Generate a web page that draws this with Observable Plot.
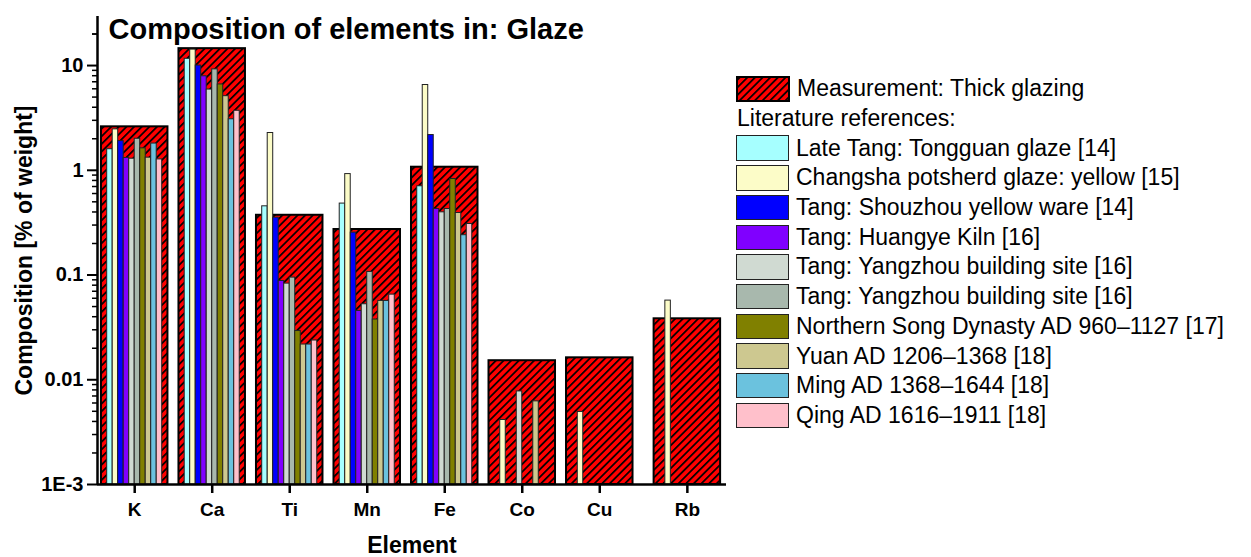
<!DOCTYPE html>
<html>
<head>
<meta charset="utf-8">
<script src="https://cdn.jsdelivr.net/npm/d3@7"></script>
<script src="https://cdn.jsdelivr.net/npm/@observablehq/plot@0.6"></script>
<style>
  body { margin: 0; background: #fff; font-family: "Liberation Sans", Arial, sans-serif; }
  #wrap { position: relative; width: 1251px; height: 557px; }
  #legend { position: absolute; left: 736px; top: 74px; }
  .row { height: 29.7px; display: flex; align-items: center; font-size: 23px; color: #000; white-space: nowrap; }
  .sw { width: 51px; height: 23.5px; border: 1.5px solid #222; margin-right: 7px; flex: none; }
  .sw svg { display: block; }
</style>
</head>
<body>
<div id="wrap"><div id="legend"></div></div>
<script>
// Elements on the x axis and their slot positions (Rb sits a little further out)
const elements = ["K", "Ca", "Ti", "Mn", "Fe", "Co", "Cu", "Rb"];
const slots = [1, 2, 3, 4, 5, 6, 7, 8.13];

// Own measurement, thick glazing (% of weight)
const measured = [2.6, 14.5, 0.372, 0.272, 1.07, 0.0152, 0.0162, 0.0382];

// Literature references (% of weight), null where not reported
const lateTangTongguan   = [1.59, 11.6, 0.453, 0.481, 0.704, null, null, null];
const changshaYellow     = [2.46, 14.2, 2.27, 0.92, 6.52, 0.00413, 0.00493, 0.057];
const tangShouzhou       = [1.9, 10.0, 0.353, 0.254, 2.17, null, null, null];
const tangHuangye        = [1.31, 7.9, 0.0877, 0.0454, 0.427, null, null, null];
const tangYangzhouA      = [1.29, 5.9, 0.0828, 0.0526, 0.397, 0.00774, null, null];
const tangYangzhouB      = [2.0, 9.2, 0.0945, 0.107, 0.427, null, null, null];
const northernSong       = [1.62, 6.6, 0.0292, 0.0376, 0.826, null, null, null];
const yuan               = [1.32, 5.1, 0.0217, 0.0566, 0.391, 0.00622, null, null];
const ming               = [1.8, 3.07, 0.0217, 0.0566, 0.24, null, null, null];
const qing               = [1.27, 3.7, 0.0237, 0.065, 0.307, null, null, null];

const refSeries = [lateTangTongguan, changshaYellow, tangShouzhou, tangHuangye, tangYangzhouA,
                   tangYangzhouB, northernSong, yuan, ming, qing];
const refNames = [
  "Late Tang: Tongguan glaze [14]",
  "Changsha potsherd glaze: yellow [15]",
  "Tang: Shouzhou yellow ware [14]",
  "Tang: Huangye Kiln [16]",
  "Tang: Yangzhou building site [16]",
  "Tang: Yangzhou building site [16]",
  "Northern Song Dynasty AD 960\u20131127 [17]",
  "Yuan AD 1206\u20131368 [18]",
  "Ming AD 1368\u20131644 [18]",
  "Qing AD 1616\u20131911 [18]"
];
const refColors = ["#a6ffff", "#fcfcc8", "#0000ff", "#8000ff", "#d0dad2",
                   "#a8b8ad", "#808000", "#cdc890", "#6bc2de", "#ffc0cb"];

const measuredName = "Measurement: Thick glazing";
const refHeading = "Literature references:";
const title = "Composition of elements in: Glaze";
const xTitle = "Element";
const yTitle = "Composition [% of weight]";

// Axis ticks
const yMajor = [0.001, 0.01, 0.1, 1, 10];
const yMajorLabels = ["1E-3", "0.01", "0.1", "1", "10"];
const yMinor = [];
for (const p of [0.001, 0.01, 0.1, 1, 10]) for (let k = 2; k <= 9; k++) if (k * p < 29) yMinor.push(+(k * p).toPrecision(3));
yMinor.push(20);

const xDomain = [0.52, 8.635];
const yDomain = [0.001, 29.4];

// Bar geometry in slot units
const boxHalf = 0.429;
const barW = 0.071;
const groupStart = -0.355;

const measuredRows = measured.map((v, i) => ({pos: slots[i], value: v}));

const chart = Plot.plot({
  width: 1251,
  height: 557,
  marginLeft: 97,
  marginRight: 525,
  marginTop: 16,
  marginBottom: 73,
  style: {fontFamily: "'Liberation Sans', Arial, sans-serif", color: "#000", background: "#fff"},
  x: {type: "linear", domain: xDomain},
  y: {type: "log", domain: yDomain},
  marks: [
    Plot.rectY(measuredRows, {
      x1: d => d.pos - boxHalf, x2: d => d.pos + boxHalf,
      y1: () => yDomain[0], y2: d => d.value,
      fill: "url(#hatch)", stroke: "#000", strokeWidth: 2
    }),
    ...refSeries.map((values, s) => Plot.rectY(
      values.map((v, i) => ({pos: slots[i], value: v})).filter(d => d.value != null), {
        x1: d => d.pos + groupStart + s * barW, x2: d => d.pos + groupStart + (s + 1) * barW,
        y1: () => yDomain[0], y2: d => d.value,
        fill: refColors[s], stroke: "#222", strokeWidth: 1
      })),
    Plot.axisY(yMinor, {tickSize: 5, tickFormat: () => "", strokeWidth: 1.5, label: null}),
    Plot.axisY(yMajor, {
      tickSize: 10, tickPadding: 4, strokeWidth: 2,
      tickFormat: d => yMajorLabels[yMajor.indexOf(d)],
      fontSize: 20, fontWeight: "bold", label: null
    }),
    Plot.axisX(slots, {
      tickSize: 9, tickPadding: 9, strokeWidth: 2.5,
      tickFormat: d => elements[slots.indexOf(d)],
      fontSize: 19, fontWeight: "bold", label: null
    }),
    Plot.ruleY([yDomain[0]], {strokeWidth: 2.5}),
    Plot.ruleX([xDomain[0]], {strokeWidth: 2.5}),
    Plot.text([title], {
      text: d => d, frameAnchor: "top-left", dx: 11, dy: 13.3,
      textAnchor: "start", lineAnchor: "middle", fontSize: 29, fontWeight: "bold"
    }),
    Plot.text([yTitle], {
      text: d => d, frameAnchor: "left", dx: -73, rotate: -90,
      textAnchor: "middle", lineAnchor: "middle", fontSize: 23, fontWeight: "bold"
    }),
    Plot.text([xTitle], {
      text: d => d, frameAnchor: "bottom", dy: 61.6,
      textAnchor: "middle", lineAnchor: "middle", fontSize: 23, fontWeight: "bold"
    })
  ]
});

// Red fill with black diagonal hatching for the measurement boxes
function addHatch(svgSel, id) {
  const p = svgSel.insert("defs", ":first-child").append("pattern")
    .attr("id", id).attr("patternUnits", "userSpaceOnUse")
    .attr("width", 5.4).attr("height", 5.4).attr("patternTransform", "rotate(45)");
  p.append("rect").attr("width", 5.4).attr("height", 5.4).attr("fill", "#ff0000");
  p.append("rect").attr("width", 1.7).attr("height", 5.4).attr("fill", "#000");
}
addHatch(d3.select(chart), "hatch");

document.getElementById("wrap").prepend(chart);

// Legend
const legend = d3.select("#legend");
const first = legend.append("div").attr("class", "row");
const hs = first.append("div").attr("class", "sw").style("border", "2px solid #000").style("width", "50px").style("height", "22.5px")
  .append("svg").attr("width", 50).attr("height", 22.5);
addHatch(hs, "hatchLegend");
hs.append("rect").attr("width", 50).attr("height", 22.5).attr("fill", "url(#hatchLegend)");
first.append("span").text(measuredName);
legend.append("div").attr("class", "row").style("padding-left", "1px").text(refHeading);
refNames.forEach((name, i) => {
  const r = legend.append("div").attr("class", "row");
  r.append("div").attr("class", "sw").style("background", refColors[i]);
  r.append("span").text(name);
});
</script>
</body>
</html>
